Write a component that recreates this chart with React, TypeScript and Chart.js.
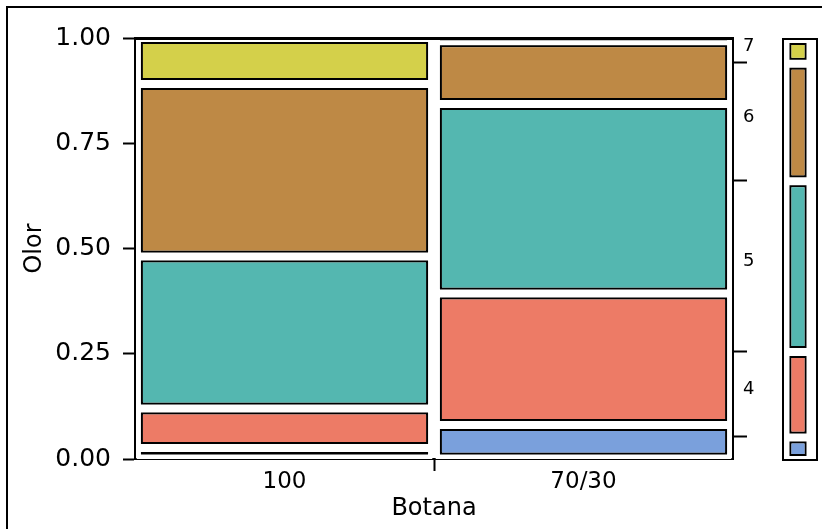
import React, { useEffect, useRef } from "react";
import { Chart, registerables } from "chart.js";

Chart.register(...registerables);

// ---- data ----
const categories = ["100", "70/30"];
const levels = ["3", "4", "5", "6", "7"]; // Olor levels, bottom to top
const levelColors = ["#7AA0DC", "#ED7B66", "#54B7B0", "#BE8945", "#D4D04A"];
// share of each Olor level inside each Botana group (bottom to top)
const share100 = [0.026, 0.094, 0.361, 0.41, 0.109];
const share7030 = [0.081, 0.312, 0.45, 0.149, 0.008];
const yTickValues = [0, 0.25, 0.5, 0.75, 1];
const rightLevelLabels = ["", "4", "5", "6", "7"];

const FONT = "DejaVu Sans";
const BLACK = "#000000";
const CLEAR = "rgba(0,0,0,0)";

function cumulative(shares: number[]): number[] {
  const out = [0];
  shares.forEach((s) => out.push(out[out.length - 1] + s));
  return out;
}

const groupShares = [share100, share7030];
const groupCums = groupShares.map(cumulative);
// overall distribution (groups have equal width)
const marginalShares = levels.map((_, i) => (share100[i] + share7030[i]) / 2);
const marginalCum = cumulative(marginalShares);

// right-hand axis: boundaries get tick marks, mid points get labels
type RTick = { value: number; label: string; mark: boolean };
const rightTicks: RTick[] = [];
levels.forEach((_, i) => {
  if (rightLevelLabels[i]) {
    rightTicks.push({ value: (marginalCum[i] + marginalCum[i + 1]) / 2, label: rightLevelLabels[i], mark: false });
  }
  if (i < levels.length - 1) {
    rightTicks.push({ value: marginalCum[i + 1], label: "", mark: true });
  }
});
rightTicks.sort((a, b) => a.value - b.value);

function barDatasets(ranges: (number[] | null)[][], barPercentage: number) {
  const base = (i: number) => ({
    label: levels[i],
    data: ranges.map((r) => r[i]),
    borderSkipped: false as const,
    grouped: false,
    barPercentage,
    categoryPercentage: 1,
  });
  const colored = levels.map((_, i) => ({
    ...base(i),
    backgroundColor: levelColors[i],
    borderColor: BLACK,
    borderWidth: 6,
    inflateAmount: 0,
    order: 2,
  }));
  const gaps = levels.map((_, i) => ({
    ...base(i),
    backgroundColor: CLEAR,
    borderColor: "#ffffff",
    borderWidth: 3.5,
    inflateAmount: 0.5,
    order: 1,
  }));
  return [...colored, ...gaps];
}

export default function App() {
  const mainRef = useRef<HTMLCanvasElement>(null);
  const sideRef = useRef<HTMLCanvasElement>(null);

  useEffect(() => {
    if (!mainRef.current || !sideRef.current) return;

    // rows: one per category, each holding [lo, hi] for every level
    const mainRanges = groupCums.map((cum) => levels.map((_, i) => [cum[i], cum[i + 1]]));

    const topLine = {
      id: "topLine",
      afterDraw(chart: any) {
        const { ctx, chartArea } = chart;
        ctx.save();
        ctx.strokeStyle = BLACK;
        ctx.lineWidth = 3;
        ctx.beginPath();
        ctx.moveTo(chartArea.left - 1, chartArea.top + 0.5);
        ctx.lineTo(chartArea.right + 1, chartArea.top + 0.5);
        ctx.stroke();
        ctx.restore();
      },
    };

    const main = new Chart(mainRef.current, {
      type: "bar",
      data: { labels: categories, datasets: barDatasets(mainRanges as any, 0.987) as any },
      options: {
        responsive: false,
        animation: false,
        devicePixelRatio: 1,
        layout: { padding: { top: 38, left: 0, right: 0, bottom: 0 } },
        plugins: { legend: { display: false }, tooltip: { enabled: false } },
        scales: {
          x: {
            type: "category",
            offset: true,
            grid: {
              display: true,
              offset: true,
              drawOnChartArea: false,
              drawTicks: true,
              tickLength: 12,
              tickWidth: 2,
              tickColor: (c: any) => (c.index === 1 ? BLACK : CLEAR),
            },
            border: { display: true, color: BLACK, width: 2 },
            ticks: { font: { family: FONT, size: 23 }, color: BLACK, padding: -3, maxRotation: 0, autoSkip: false },
            title: {
              display: true,
              text: "Botana",
              color: BLACK,
              font: { family: FONT, size: 24 },
              padding: { top: 0, bottom: 6 },
            },
            afterFit: (s: any) => {
              s.height = 70;
            },
          },
          y: {
            type: "linear",
            position: "left",
            min: 0,
            max: 1,
            afterBuildTicks: (s: any) => {
              s.ticks = yTickValues.map((v) => ({ value: v }));
            },
            grid: {
              display: true,
              drawOnChartArea: false,
              drawTicks: true,
              tickLength: 12,
              tickWidth: 2,
              tickColor: BLACK,
            },
            border: { display: true, color: BLACK, width: 2 },
            ticks: {
              font: { family: FONT, size: 25 },
              color: BLACK,
              padding: 12,
              autoSkip: false,
              callback: (v: any) => Number(v).toFixed(2),
            },
            title: {
              display: true,
              text: "Olor",
              color: BLACK,
              font: { family: FONT, size: 24 },
              padding: { top: 20, bottom: 0 },
            },
            afterFit: (s: any) => {
              s.width = 135;
            },
          },
          y2: {
            type: "linear",
            position: "right",
            min: 0,
            max: 1,
            afterBuildTicks: (s: any) => {
              s.ticks = rightTicks.map((t) => ({ value: t.value }));
            },
            grid: {
              display: true,
              drawOnChartArea: false,
              drawTicks: true,
              tickLength: 14,
              tickWidth: 2,
              tickColor: (c: any) => (rightTicks[c.index] && rightTicks[c.index].mark ? BLACK : CLEAR),
            },
            border: { display: true, color: BLACK, width: 2 },
            ticks: {
              font: { family: FONT, size: 18 },
              color: BLACK,
              padding: -4,
              labelOffset: -4,
              autoSkip: false,
              callback: (_v: any, i: number) => (rightTicks[i] ? rightTicks[i].label : ""),
            },
            afterFit: (s: any) => {
              s.width = 89;
            },
          },
        },
      } as any,
      plugins: [topLine],
    });

    // marginal bar on the far right
    const sideRanges = [levels.map((_, i) => [marginalCum[i], marginalCum[i + 1]])];
    const frame = {
      id: "frame",
      afterDraw(chart: any) {
        const { ctx, chartArea } = chart;
        ctx.save();
        ctx.strokeStyle = BLACK;
        ctx.lineWidth = 2;
        ctx.strokeRect(chartArea.left, chartArea.top, chartArea.right + 4 - chartArea.left, chartArea.bottom - chartArea.top);
        ctx.restore();
      },
    };
    const side = new Chart(sideRef.current, {
      type: "bar",
      data: { labels: ["all"], datasets: barDatasets(sideRanges as any, 0.833) as any },
      options: {
        responsive: false,
        animation: false,
        devicePixelRatio: 1,
        layout: { padding: { top: 39, bottom: 69, left: 23, right: 9 } },
        plugins: { legend: { display: false }, tooltip: { enabled: false } },
        scales: {
          x: { type: "category", display: false },
          y: { type: "linear", min: 0, max: 1, display: false },
        },
      } as any,
      plugins: [frame],
    });

    return () => {
      main.destroy();
      side.destroy();
    };
  }, []);

  return (
    <div
      style={{
        position: "fixed",
        left: 0,
        top: 0,
        width: 822,
        height: 529,
        overflow: "hidden",
        background: "#ffffff",
      }}
    >
      <div
        style={{
          position: "absolute",
          left: 6,
          top: 6,
          width: 900,
          height: 600,
          borderLeft: "2px solid #000",
          borderTop: "2px solid #000",
        }}
      />
      <canvas
        ref={mainRef}
        width={822}
        height={529}
        style={{ position: "absolute", left: 0, top: 0, width: 822, height: 529 }}
      />
      <canvas
        ref={sideRef}
        width={62}
        height={529}
        style={{ position: "absolute", left: 760, top: 0, width: 62, height: 529 }}
      />
    </div>
  );
}
